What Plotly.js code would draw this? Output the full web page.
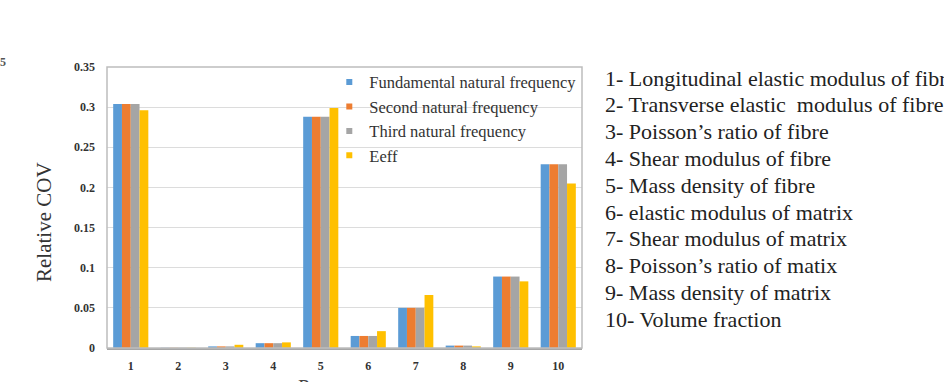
<!DOCTYPE html>
<html>
<head>
<meta charset="utf-8">
<script src="https://cdn.plot.ly/plotly-3.0.1.min.js"></script>
<style>html,body{margin:0;padding:0;background:#fff;}#chart{width:944px;height:382px;}</style>
</head>
<body>
<div id="chart"></div>
<script>
const categories = ['1','2','3','4','5','6','7','8','9','10'];
const fundamental = [0.304, 0.0003, 0.002, 0.006, 0.288, 0.015, 0.050, 0.003, 0.089, 0.229];
const second      = [0.304, 0.0003, 0.002, 0.006, 0.288, 0.015, 0.050, 0.003, 0.089, 0.229];
const third       = [0.304, 0.0003, 0.002, 0.006, 0.288, 0.015, 0.050, 0.003, 0.089, 0.229];
const eff         = [0.296, 0.0003, 0.004, 0.007, 0.299, 0.021, 0.066, 0.002, 0.083, 0.205];
const seriesNames = ['Fundamental natural frequency', 'Second natural frequency', 'Third natural frequency', 'Eeff'];
const paramLabels = [
  '1- Longitudinal elastic modulus of fibre',
  '2- Transverse elastic  modulus of fibre',
  '3- Poisson\u2019s ratio of fibre',
  '4- Shear modulus of fibre',
  '5- Mass density of fibre',
  '6- elastic modulus of matrix',
  '7- Shear modulus of matrix',
  '8- Poisson\u2019s ratio of matix',
  '9- Mass density of matrix',
  '10- Volume fraction'
];
const yTickVals = [0, 0.05, 0.1, 0.15, 0.2, 0.25, 0.3, 0.35];
const yTickText = ['0', '0.05', '0.1', '0.15', '0.2', '0.25', '0.3', '0.35'];
const yTitle = 'Relative COV';
const xTitle = 'Parameters';

const colors = ['#5B9BD5', '#ED7D31', '#A5A5A5', '#FFC000'];
const allSeries = [fundamental, second, third, eff];
const serif = 'Liberation Serif, Times New Roman, serif';

const traces = [];
allSeries.forEach((vals, i) => {
  traces.push({
    type: 'bar', x: categories, y: vals, name: seriesNames[i],
    marker: {color: colors[i]}, showlegend: false, hoverinfo: 'x+y'
  });
});
allSeries.forEach((vals, i) => {
  traces.push({
    type: 'scatter', mode: 'markers', x: [null], y: [null], name: seriesNames[i],
    marker: {color: colors[i], symbol: 'square', size: 6}, showlegend: true
  });
});

const plotH = 382 - 67 - 34;
const annotations = [];
paramLabels.forEach((t, i) => {
  const ypx = 78 + i * 26.8;
  annotations.push({
    xref: 'paper', yref: 'paper', x: (603 - 107) / 475, y: (348 - ypx) / plotH,
    xanchor: 'left', yanchor: 'middle', showarrow: false, text: t,
    font: {family: serif, size: 22, color: '#222'}
  });
});
annotations.push({
  xref: 'paper', yref: 'paper', x: (44 - 107) / 475, y: (348 - 222) / plotH,
  xanchor: 'center', yanchor: 'middle', textangle: -90, showarrow: false,
  text: yTitle, font: {family: serif, size: 21, color: '#333'}
});
annotations.push({
  xref: 'paper', yref: 'paper', x: 0.5, y: (348 - 387) / plotH,
  xanchor: 'center', yanchor: 'middle', showarrow: false,
  text: xTitle, font: {family: serif, size: 21, color: '#444'}
});
annotations.push({
  xref: 'paper', yref: 'paper', x: (3 - 107) / 475, y: (348 - 62) / plotH,
  xanchor: 'center', yanchor: 'middle', showarrow: false,
  text: '<b>5</b>', font: {family: serif, size: 12, color: '#555'}
});

const layout = {
  width: 944, height: 382,
  margin: {l: 107, r: 362, t: 67, b: 34, pad: 0},
  paper_bgcolor: '#fff', plot_bgcolor: '#fff',
  font: {family: serif, color: '#333'},
  barmode: 'group', bargap: 0.26, bargroupgap: 0,
  xaxis: {
    type: 'category', showgrid: false, showline: true, linecolor: '#a6a6a6', linewidth: 1.5,
    tickfont: {family: serif, size: 12, color: '#333', weight: 'bold'},
    ticks: '', ticklabelstandoff: 6, zeroline: false, fixedrange: true
  },
  yaxis: {
    range: [0, 0.35], tickvals: yTickVals, ticktext: yTickText,
    showgrid: true, gridcolor: '#dcdcdc', gridwidth: 1, zeroline: false,
    showline: false, ticks: '', ticklabelstandoff: 11,
    tickfont: {family: serif, size: 12, color: '#333', weight: 'bold'}, fixedrange: true
  },
  shapes: [{
    type: 'rect', xref: 'paper', yref: 'paper', x0: 0, x1: 1, y0: 0, y1: 1,
    line: {color: '#bdbdbd', width: 1.5}, fillcolor: 'rgba(0,0,0,0)', layer: 'above'
  }],
  legend: {
    x: 0.468, y: 1.008, xanchor: 'left', yanchor: 'top',
    bgcolor: 'rgba(255,255,255,0)', borderwidth: 0,
    font: {family: serif, size: 16.5, color: '#333'}, itemwidth: 30
  },
  annotations: annotations,
  showlegend: true
};

Plotly.newPlot('chart', traces, layout, {displayModeBar: false, staticPlot: true});
</script>
</body>
</html>
